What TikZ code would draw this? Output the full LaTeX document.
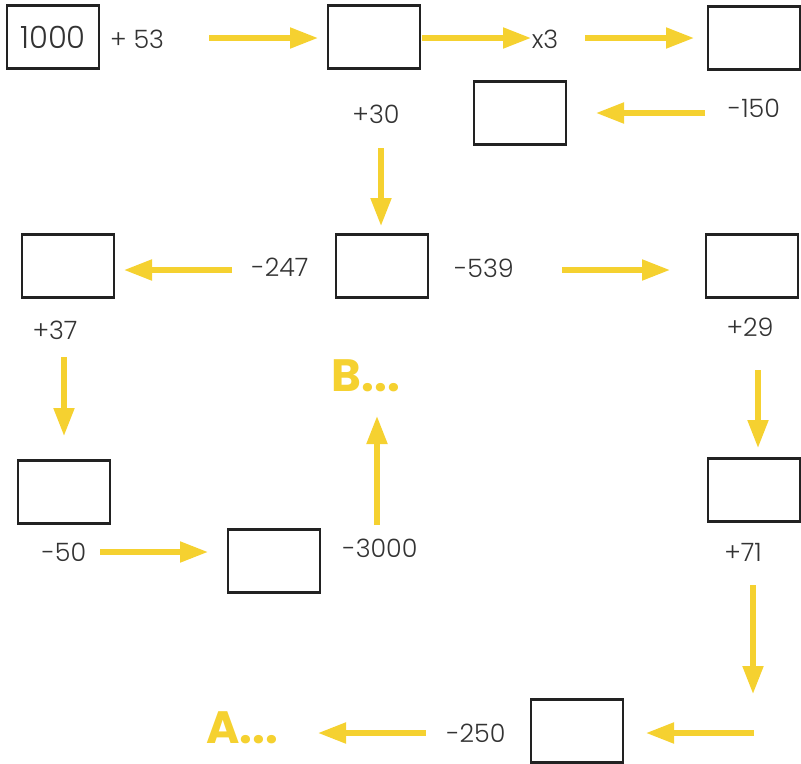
\documentclass[tikz,border=0pt]{standalone}
\usepackage{fontspec}
\setmainfont{Poppins}[UprightFont={* Light},BoldFont={* Bold}]
\usetikzlibrary{arrows.meta}
\definecolor{yel}{HTML}{F5D130}
\definecolor{boxc}{HTML}{222222}
\definecolor{txtc}{HTML}{333333}
\tikzset{
  x=0.75pt,y=-0.75pt,
  numbox/.style={draw=boxc,line width=1.9pt,minimum width=69pt,minimum height=47pt,inner sep=0pt,text=txtc,font=\fontsize{23}{23}\selectfont},
  lbl/.style={text=txtc,font=\fontsize{19}{19}\selectfont,inner sep=0pt},
  big/.style={text=yel,font=\bfseries\fontsize{34}{34}\selectfont,inner sep=0pt},
  yarrow/.style={draw=yel,line width=3.8pt,-{Triangle[length=21pt,width=15pt]}}
}
\begin{document}
\begin{tikzpicture}
\useasboundingbox (0,0) rectangle (801,764);
% boxes
\node[numbox] (b1) at (53,37) {1000};
\node[numbox] (b2) at (374,37) {};
\node[numbox] (b3) at (754,38) {};
\node[numbox] (b4) at (520,113) {};
\node[numbox] (b5) at (382,266) {};
\node[numbox] (b6) at (68,266) {};
\node[numbox] (b7) at (752,266) {};
\node[numbox] (b8) at (64,492) {};
\node[numbox] (b9) at (274,561) {};
\node[numbox] (b10) at (754,490) {};
\node[numbox] (b11) at (577,731) {};
% labels
\node[lbl] (l53) at (137,39) {+ 53};
\node[lbl] (lx3) at (545,39) {x3};
\node[lbl] (l150) at (754,108) {-150};
\node[lbl] (l30) at (376,114) {+30};
\node[lbl] (l247) at (280,267) {-247};
\node[lbl] (l539) at (484,268) {-539};
\node[lbl] (l37) at (55,330) {+37};
\node[lbl] (l29) at (750,327) {+29};
\node[lbl] (l3000) at (380,548) {-3000};
\node[lbl] (l50) at (64,552) {-50};
\node[lbl] (l71) at (743,552) {+71};
\node[lbl] (l250) at (476,733) {-250};
\node[big] (B) at (366,376) {B...};
\node[big] (A) at (242,728) {A...};
% arrow ends
\coordinate (a1s) at (209,38); \coordinate (a1e) at (318,38);
\coordinate (a2s) at (422,38); \coordinate (a2e) at (531,38);
\coordinate (a3s) at (585,38); \coordinate (a3e) at (694,38);
\coordinate (a4s) at (705,113); \coordinate (a4e) at (596,113);
\coordinate (a5s) at (381,148); \coordinate (a5e) at (381,226);
\coordinate (a6s) at (232,270); \coordinate (a6e) at (124,270);
\coordinate (a7s) at (562,270); \coordinate (a7e) at (670,270);
\coordinate (a8s) at (64,357); \coordinate (a8e) at (64,436);
\coordinate (a9s) at (758,370); \coordinate (a9e) at (758,448);
\coordinate (a10s) at (100,552); \coordinate (a10e) at (208,552);
\coordinate (a11s) at (377,525); \coordinate (a11e) at (377,416);
\coordinate (a12s) at (753,585); \coordinate (a12e) at (753,694);
\coordinate (a13s) at (754,733); \coordinate (a13e) at (646,733);
\coordinate (a14s) at (426,733); \coordinate (a14e) at (318,733);
\foreach \i in {1,...,14} \draw[yarrow] (a\i s) -- (a\i e);
\end{tikzpicture}
\end{document}
